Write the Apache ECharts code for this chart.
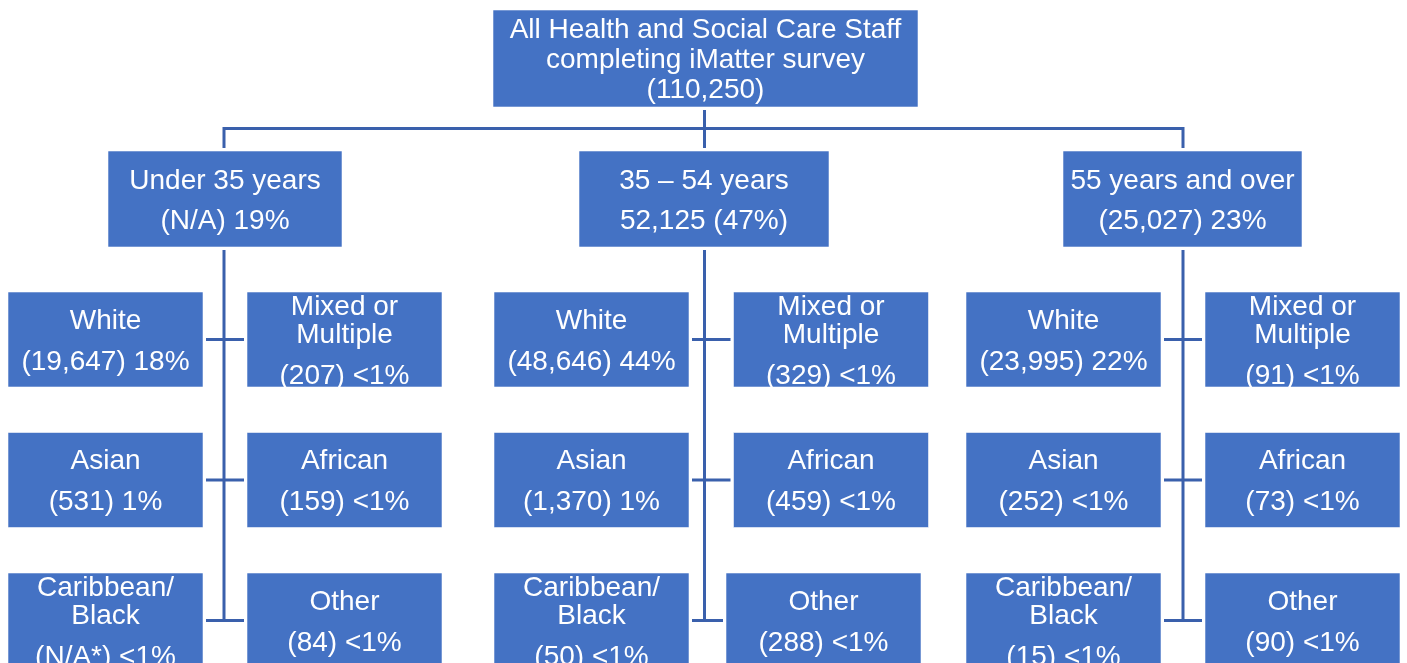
<!DOCTYPE html>
<html>
<head>
<meta charset="utf-8">
<script src="https://cdn.jsdelivr.net/npm/echarts@6/dist/echarts.min.js"></script>
<style>
  html, body { margin: 0; padding: 0; background: #fff; }
  #chart { width: 1407px; height: 663px; }
</style>
</head>
<body>
<div id="chart"></div>
<script>
// ---- data ----
const totalTitle = ['All Health and Social Care Staff', 'completing iMatter survey'];
const totalStaff = 110250;
const ageGroups = ['Under 35 years', '35 – 54 years', '55 years and over'];
const ageValues = ['(N/A) 19%', '52,125 (47%)', '(25,027) 23%'];
const ethnicGroups = ['White', 'Mixed or\nMultiple', 'Asian', 'African', 'Caribbean/\nBlack', 'Other'];
const under35Counts = [19647, 207, 531, 159, null, 84];
const under35Pct = ['18%', '<1%', '1%', '<1%', '<1%', '<1%'];
const age35to54Counts = [48646, 329, 1370, 459, 50, 288];
const age35to54Pct = ['44%', '<1%', '1%', '<1%', '<1%', '<1%'];
const over55Counts = [23995, 91, 252, 73, 15, 90];
const over55Pct = ['22%', '<1%', '<1%', '<1%', '<1%', '<1%'];

const groupCounts = [under35Counts, age35to54Counts, over55Counts];
const groupPct = [under35Pct, age35to54Pct, over55Pct];

// ---- layout (axis units == page pixels) ----
const BOX = '#4472C4';
const LINE = '#3A60AC';
const FONT = '"Liberation Sans", Arial, sans-serif';
const topBox = { cx: 705.5, cy: 58.5, w: 425, h: 97 };
const ageCx = [225, 704, 1182.5];
const ageW = [234, 250, 239];
const ageCy = 199, ageH = 96;
const spineX = [224, 704.5, 1183];
const leftCx = [105.5, 591.5, 1063.5];
const rightCx = [344.5, 831, 1302.5];
const rowCy = [339.5, 480, 620.5];
const cellW = 195, cellH = 95;
const busY = 128.5;
const textNudge = 2; // text sits a touch below box centre

function fmt(n) {
  if (n === null) return 'N/A*';
  return String(n).replace(/\B(?=(\d{3})+(?!\d))/g, ',');
}

// boxes
let nodes = [];
nodes.push({
  cx: topBox.cx, cy: topBox.cy, w: topBox.w, h: topBox.h,
  paras: [totalTitle.concat(['(' + fmt(totalStaff) + ')'])], lineGap: 30, paraGap: 30
});
ageGroups.forEach((g, i) => {
  nodes.push({ cx: ageCx[i], cy: ageCy, w: ageW[i], h: ageH, paras: [[g], [ageValues[i]]], lineGap: 28, paraGap: 40 });
});
groupCounts.forEach((counts, gi) => {
  ethnicGroups.forEach((e, k) => {
    let row = Math.floor(k / 2), side = k % 2;
    let cx = side === 0 ? leftCx[gi] : rightCx[gi];
    if (gi === 1 && k === 5) cx -= 7.5; // "Other" box sits slightly left in the middle group
    nodes.push({
      cx: cx, cy: rowCy[row], w: cellW, h: cellH,
      paras: [e.split('\n'), ['(' + fmt(counts[k]) + ') ' + groupPct[gi][k]]],
      lineGap: 28, paraGap: 41
    });
  });
});

// connectors
let segs = [];
segs.push([[704.5, 110], [704.5, 148]]);
segs.push([[spineX[0], 148], [spineX[0], busY], [spineX[2], busY], [spineX[2], 148]]);
segs.push([[spineX[1], busY], [spineX[1], 148]]);
spineX.forEach((x, gi) => {
  segs.push([[x, 250], [x, rowCy[2] + 1.5]]);
  rowCy.forEach((y, r) => {
    let rx = rightCx[gi] - (gi === 1 && r === 2 ? 7.5 : 0);
    segs.push([[leftCx[gi] + cellW / 2 + 3, y], [rx - cellW / 2 - 3, y]]);
  });
});

let chart = echarts.init(document.getElementById('chart'));
let option = {
  animation: false,
  grid: { left: 0, right: 0, top: 0, bottom: 0 },
  xAxis: { type: 'value', min: 0, max: 1407, show: false },
  yAxis: { type: 'value', min: 0, max: 663, inverse: true, show: false },
  series: [
    {
      type: 'custom',
      silent: true,
      data: segs.map((s, i) => [i]),
      renderItem: function (params, api) {
        let pts = segs[params.dataIndex].map(p => api.coord(p));
        return {
          type: 'polyline',
          shape: { points: pts },
          style: { stroke: LINE, lineWidth: 3, fill: null }
        };
      }
    },
    {
      type: 'custom',
      silent: true,
      data: nodes.map((n, i) => [n.cx, n.cy]),
      renderItem: function (params, api) {
        let n = nodes[params.dataIndex];
        let c = api.coord([n.cx, n.cy]);
        let s = api.size([n.w, n.h]);
        let w = Math.abs(s[0]), h = Math.abs(s[1]);
        // line positions relative to first line
        let ys = [], y = 0, lines = [];
        n.paras.forEach((p, pi) => {
          p.forEach((t, li) => {
            if (lines.length) y += li === 0 ? n.paraGap : n.lineGap;
            ys.push(y); lines.push(t);
          });
        });
        let off = (ys[ys.length - 1]) / 2;
        let children = [{
          type: 'rect',
          shape: { x: c[0] - w / 2, y: c[1] - h / 2, width: w, height: h },
          style: { fill: BOX, stroke: 'rgba(255,255,255,0.55)', lineWidth: 1 }
        }];
        lines.forEach((t, i) => {
          children.push({
            type: 'text',
            style: {
              text: t, x: c[0], y: c[1] + ys[i] - off + textNudge,
              align: 'center', verticalAlign: 'middle',
              fill: '#fff', fontSize: 28, fontFamily: FONT
            }
          });
        });
        return { type: 'group', children: children };
      }
    }
  ]
};
chart.setOption(option);
window.addEventListener('resize', () => chart.resize());
</script>
</body>
</html>
